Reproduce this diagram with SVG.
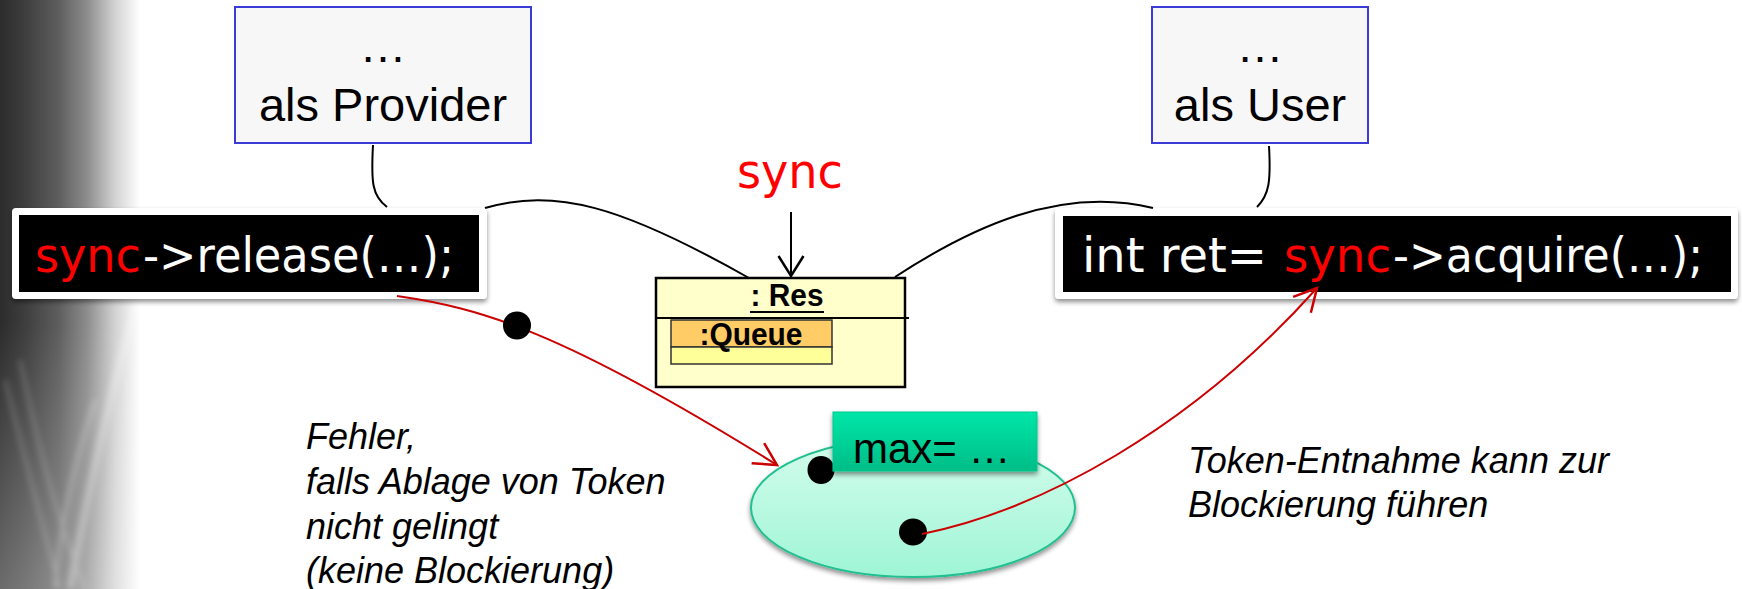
<svg xmlns="http://www.w3.org/2000/svg" width="1742" height="589" viewBox="0 0 1742 589">
  <defs>
    <style>
      .sans { font-family: "Liberation Sans", Arial, sans-serif; }
      .code { font-family: "Comic Sans MS", "DejaVu Sans", sans-serif; font-size: 48px; }
      .role { fill: #f7f7f7; stroke: #3b3bd6; stroke-width: 2; }
      .roleText { font-family: "Liberation Sans", Arial, sans-serif; font-size: 47px; fill: #000; text-anchor: middle; }
      .note { font-family: "Liberation Sans", Arial, sans-serif; font-size: 36px; font-style: italic; fill: #000; }
      .wire { fill: none; stroke: #000; stroke-width: 2; }
      .flow { fill: none; stroke: #cc0000; stroke-width: 2; }
      .red { fill: #ff0000; }
      .white { fill: #ffffff; }
    </style>
    <linearGradient id="band" x1="0" y1="0" x2="1" y2="0">
      <stop offset="0" stop-color="#2c2c2c"/>
      <stop offset="0.18" stop-color="#3e3e3e"/>
      <stop offset="0.42" stop-color="#5e5e5e"/>
      <stop offset="0.62" stop-color="#8c8c8c"/>
      <stop offset="0.82" stop-color="#d2d2d2"/>
      <stop offset="1" stop-color="#ffffff"/>
    </linearGradient>
    <linearGradient id="bandFade" x1="0" y1="0" x2="0" y2="1">
      <stop offset="0" stop-color="#ffffff" stop-opacity="0"/>
      <stop offset="0.55" stop-color="#ffffff" stop-opacity="0"/>
      <stop offset="1" stop-color="#ffffff" stop-opacity="0.3"/>
    </linearGradient>
    <linearGradient id="pool" x1="0" y1="0" x2="0" y2="1">
      <stop offset="0" stop-color="#d4fdec"/>
      <stop offset="1" stop-color="#9ff5d6"/>
    </linearGradient>
    <linearGradient id="limit" x1="0" y1="0" x2="0" y2="1">
      <stop offset="0" stop-color="#00e6a8"/>
      <stop offset="1" stop-color="#00bd87"/>
    </linearGradient>
    <filter id="shadow" x="-10%" y="-20%" width="120%" height="150%">
      <feGaussianBlur in="SourceAlpha" stdDeviation="2.5"/>
      <feOffset dx="0" dy="3" result="b"/>
      <feComponentTransfer><feFuncA type="linear" slope="0.45"/></feComponentTransfer>
      <feMerge><feMergeNode/><feMergeNode in="SourceGraphic"/></feMerge>
    </filter>
    <filter id="streak" x="-50%" y="-50%" width="200%" height="200%">
      <feGaussianBlur stdDeviation="3"/>
    </filter>
    <marker id="openRed" markerUnits="userSpaceOnUse" markerWidth="30" markerHeight="30" refX="0" refY="0" viewBox="-22 -12 24 24" orient="auto">
      <path d="M-18,-9.5 L0,0 L-18,9.5" fill="none" stroke="#cc0000" stroke-width="2"/>
    </marker>
    <marker id="openBlack" markerUnits="userSpaceOnUse" markerWidth="30" markerHeight="30" refX="0" refY="0" viewBox="-22 -12 24 24" orient="auto">
      <path d="M-16,-10 L0,0 L-16,10" fill="none" stroke="#000" stroke-width="2"/>
    </marker>
  </defs>

  <!-- page background with dark left band -->
  <rect width="1742" height="589" fill="#ffffff"/>
  <rect x="0" y="0" width="140" height="589" fill="url(#band)"/>
  <rect x="0" y="0" width="140" height="589" fill="url(#bandFade)"/>
  <g stroke="#ffffff" fill="none" filter="url(#streak)" opacity="0.35">
    <path d="M70,589 C90,480 110,390 138,300" stroke-width="6"/>
    <path d="M55,589 C60,520 75,460 95,400" stroke-width="3"/>
    <path d="M5,380 C20,440 35,500 60,589" stroke-width="2"/>
    <path d="M20,360 C35,430 50,500 85,589" stroke-width="2"/>
  </g>

  <!-- role boxes -->
  <g id="provider">
    <rect class="role" x="235" y="7" width="296" height="136"/>
    <text class="roleText" x="383" y="62">…</text>
    <text class="roleText" x="383" y="121">als Provider</text>
  </g>
  <g id="user">
    <rect class="role" x="1152" y="7" width="216" height="136"/>
    <text class="roleText" x="1260" y="62">…</text>
    <text class="roleText" x="1260" y="121">als User</text>
  </g>

  <!-- code statements -->
  <g id="release">
    <rect x="12" y="208" width="475" height="91" rx="4" fill="#ffffff" filter="url(#shadow)"/>
    <rect x="19" y="215" width="460" height="77" fill="#000000"/>
    <text class="code red" x="35" y="272" textLength="106" lengthAdjust="spacingAndGlyphs">sync</text>
    <text class="code white" x="143" y="272" textLength="311" lengthAdjust="spacingAndGlyphs">-&gt;release(…);</text>
  </g>
  <g id="acquire">
    <rect x="1055" y="208" width="683" height="91" rx="4" fill="#ffffff" filter="url(#shadow)"/>
    <rect x="1063" y="216" width="668" height="76" fill="#000000"/>
    <text class="code white" x="1082" y="272" textLength="185" lengthAdjust="spacingAndGlyphs">int ret=</text>
    <text class="code red" x="1284" y="272" textLength="107" lengthAdjust="spacingAndGlyphs">sync</text>
    <text class="code white" x="1393" y="272" textLength="310" lengthAdjust="spacingAndGlyphs">-&gt;acquire(…);</text>
  </g>

  <!-- shared resource object -->
  <g id="res">
    <rect x="656" y="278" width="249" height="109" fill="#ffffcc" stroke="#000" stroke-width="2.5"/>
    <text class="sans" x="787" y="306" font-size="31" font-weight="bold" text-anchor="middle" textLength="73" lengthAdjust="spacingAndGlyphs">: Res</text>
    <line x1="750" y1="312" x2="824" y2="312" stroke="#000" stroke-width="2"/>
    <line x1="656" y1="318" x2="909" y2="318" stroke="#000" stroke-width="2"/>
    <g id="queue">
      <rect x="671" y="320" width="161" height="27" fill="#ffcc66" stroke="#333" stroke-width="1.5"/>
      <rect x="671" y="347" width="161" height="17" fill="#ffff99" stroke="#333" stroke-width="1.5"/>
      <text class="sans" x="751" y="345" font-size="31" font-weight="bold" text-anchor="middle" textLength="103" lengthAdjust="spacingAndGlyphs">:Queue</text>
    </g>
  </g>

  <!-- token pool -->
  <g id="pool">
    <ellipse cx="913" cy="507.5" rx="162" ry="69.5" fill="url(#pool)" stroke="#20c090" stroke-width="2" filter="url(#shadow)"/>
    <ellipse cx="821" cy="470" rx="13.5" ry="14" fill="#000"/>
    <ellipse cx="913" cy="532" rx="14" ry="13.5" fill="#000"/>
  </g>
  <g id="max">
    <rect x="833" y="412" width="204" height="59" fill="url(#limit)" stroke="#00c890" stroke-width="1" filter="url(#shadow)"/>
    <text class="sans" x="853" y="463" font-size="42" fill="#000">max= …</text>
  </g>

  <!-- connectors -->
  <g id="connectors">
    <path class="wire" d="M373,145 C371,182 372,196 387,207"/>
    <path class="wire" d="M1269,146 C1271,182 1269,195 1257,207"/>
    <path class="wire" d="M485,208 C555,188 620,205 749,278"/>
    <path class="wire" d="M895,277 C970,228 1060,185 1153,208"/>
    <path class="wire" d="M791,212 L791,276" marker-end="url(#openBlack)"/>
    <path class="flow" d="M397,296 C480,308 560,330 777,465" marker-end="url(#openRed)"/>
    <circle cx="517" cy="325.5" r="14" fill="#000"/>
    <path class="flow" d="M922,534 C1040,510 1190,430 1317,288" marker-end="url(#openRed)"/>
  </g>

  <!-- labels -->
  <g id="labels">
    <text class="code red" x="737" y="188" textLength="106" lengthAdjust="spacingAndGlyphs">sync</text>
    <text class="note">
      <tspan x="306" y="449">Fehler,</tspan>
      <tspan x="306" y="494">falls Ablage von Token</tspan>
      <tspan x="306" y="539">nicht gelingt</tspan>
      <tspan x="306" y="583">(keine Blockierung)</tspan>
    </text>
    <text class="note">
      <tspan x="1188" y="473">Token-Entnahme kann zur</tspan>
      <tspan x="1188" y="517">Blockierung führen</tspan>
    </text>
  </g>
</svg>
